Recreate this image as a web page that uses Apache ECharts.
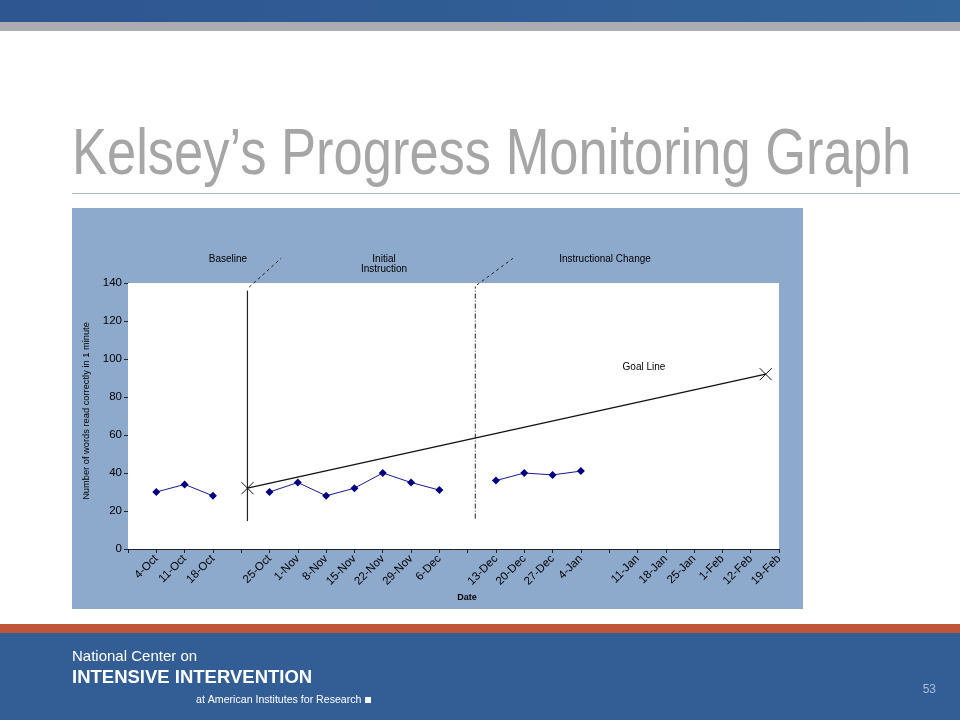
<!DOCTYPE html>
<html>
<head>
<meta charset="utf-8">
<script src="https://cdn.jsdelivr.net/npm/echarts@6/dist/echarts.min.js"></script>
<style>
html,body{margin:0;padding:0;background:#fff;}
#c{width:960px;height:720px;}
</style>
</head>
<body>
<div id="c"></div>
<script>
// ---- data ----
var dates = ['', '4-Oct', '11-Oct', '18-Oct', '', '25-Oct', '1-Nov', '8-Nov', '15-Nov', '22-Nov', '29-Nov', '6-Dec', '',
  '13-Dec', '20-Dec', '27-Dec', '4-Jan', '', '11-Jan', '18-Jan', '25-Jan', '1-Feb', '12-Feb', '19-Feb'];
var wordsCorrect = [null, 30, 34, 28, null, 30, 35, 28, 32, 40, 35, 31, null,
  36, 40, 39, 41, null, null, null, null, null, null, null];
var yTicks = { min: 0, max: 140, interval: 20 };
// goal line: from baseline point to goal point (x in category-index units)
var goalLine = [[4.22, 32], [22.53, 92]];
var baselineLine = [[4.22, 14.7], [4.22, 136]];
var baselineLead = [[4.28, 137.8], [5.41, 153]];
var changeLine = [[12.27, 16], [12.27, 138.2]];
var changeLead = [[12.33, 139], [13.6, 153]];

var chart = echarts.init(document.getElementById('c'), null, { renderer: 'canvas' });
var crossPath = 'path://M0,0L10,10M10,0L0,10';
var F = 'Liberation Sans, Arial, sans-serif';

var option = {
  animation: false,
  backgroundColor: '#ffffff',
  graphic: [
    { type: 'rect', z: 0, shape: { x: 0, y: 0, width: 960, height: 22 },
      style: { fill: new echarts.graphic.LinearGradient(0, 0, 1, 0, [{ offset: 0, color: '#2E5690' }, { offset: 1, color: '#33649A' }]) } },
    { type: 'rect', z: 0, shape: { x: 0, y: 22, width: 960, height: 9 }, style: { fill: '#AAACB1' } },
    { type: 'text', z: 10, x: 72, y: 156, scaleX: 0.82,
      style: { text: 'Kelsey\u2019s Progress Monitoring Graph', x: 0, y: 0, fill: '#A6A6A6', font: '64px ' + F, verticalAlign: 'middle', align: 'left' } },
    { type: 'rect', z: 0, shape: { x: 72, y: 193, width: 888, height: 1 }, style: { fill: '#A9BBD0' } },
    { type: 'rect', z: 0, shape: { x: 72, y: 208, width: 731, height: 401 }, style: { fill: '#8DA9CB' } },
    { type: 'text', z: 10, style: { text: 'Baseline', x: 228, y: 259, fill: '#000', font: '10px ' + F, align: 'center', verticalAlign: 'middle' } },
    { type: 'text', z: 10, style: { text: 'Initial\nInstruction', x: 384, y: 264, fill: '#000', font: '10px ' + F, align: 'center', verticalAlign: 'middle', lineHeight: 10 } },
    { type: 'text', z: 10, style: { text: 'Instructional Change', x: 605, y: 259, fill: '#000', font: '10px ' + F, align: 'center', verticalAlign: 'middle' } },
    { type: 'text', z: 10, style: { text: 'Goal Line', x: 644, y: 367, fill: '#000', font: '10px ' + F, align: 'center', verticalAlign: 'middle' } },
    { type: 'text', z: 10, style: { text: 'Date', x: 467, y: 598, fill: '#000', font: 'bold 9px ' + F, align: 'center', verticalAlign: 'middle' } },
    { type: 'text', z: 10, x: 86, y: 411, rotation: Math.PI / 2,
      style: { text: 'Number of words read correctly in 1 minute', x: 0, y: 0, fill: '#000', font: '9.3px ' + F, align: 'center', verticalAlign: 'middle' } },
    { type: 'rect', z: 0, shape: { x: 0, y: 624, width: 960, height: 9 }, style: { fill: '#C0553A' } },
    { type: 'rect', z: 0, shape: { x: 0, y: 633, width: 960, height: 87 }, style: { fill: '#335E95' } },
    { type: 'text', z: 10, style: { text: 'National Center on', x: 72, y: 657, fill: '#fff', font: '15px ' + F, verticalAlign: 'middle' } },
    { type: 'text', z: 10, style: { text: 'INTENSIVE INTERVENTION', x: 72, y: 678, fill: '#fff', font: 'bold 18.5px ' + F, verticalAlign: 'middle' } },
    { type: 'text', z: 10, style: { text: 'at American Institutes for Research', x: 196, y: 700, fill: '#fff', font: '10.6px ' + F, verticalAlign: 'middle' } },
    { type: 'rect', z: 10, shape: { x: 365, y: 697, width: 6, height: 6 }, style: { fill: '#fff' } },
    { type: 'text', z: 10, style: { text: '53', x: 936, y: 690, fill: '#A9BDD8', font: '12px ' + F, align: 'right', verticalAlign: 'middle' } }
  ],
  grid: { left: 128, right: 181, top: 283, bottom: 171, show: true, backgroundColor: '#ffffff', borderWidth: 0, z: 1 },
  xAxis: [
    { type: 'category', data: dates, boundaryGap: false,
      axisLine: { lineStyle: { color: '#222', width: 1 } },
      axisTick: { show: true, interval: 0, length: 4, lineStyle: { color: '#222' } },
      axisLabel: { interval: 0, rotate: 45, fontSize: 11.5, fontFamily: F, color: '#000', margin: 8 },
      splitLine: { show: false } },
    { type: 'value', min: 0, max: dates.length - 1, show: false }
  ],
  yAxis: {
    type: 'value', min: yTicks.min, max: yTicks.max, interval: yTicks.interval,
    axisLine: { show: true, lineStyle: { color: '#222', width: 1 } },
    axisTick: { show: true, length: 4, lineStyle: { color: '#222' } },
    axisLabel: { fontSize: 11.5, fontFamily: F, color: '#000', margin: 6 },
    splitLine: { show: false }
  },
  series: [
    { type: 'line', xAxisIndex: 1, data: goalLine, clip: false, symbol: crossPath, symbolSize: 12,
      itemStyle: { color: 'none', borderColor: '#111', borderWidth: 1 },
      lineStyle: { color: '#111', width: 1.3 }, z: 3 },
    { type: 'line', xAxisIndex: 1, data: baselineLine, clip: false, symbol: 'none',
      lineStyle: { color: '#222', width: 1.2 }, z: 3 },
    { type: 'line', xAxisIndex: 1, data: baselineLead, clip: false, symbol: 'none',
      lineStyle: { color: '#222', width: 1, type: [3, 3] }, z: 3 },
    { type: 'line', xAxisIndex: 1, data: changeLine, clip: false, symbol: 'none',
      lineStyle: { color: '#222', width: 1, type: [5, 2, 1, 2] }, z: 3 },
    { type: 'line', xAxisIndex: 1, data: changeLead, clip: false, symbol: 'none',
      lineStyle: { color: '#222', width: 1, type: [3, 3] }, z: 3 },
    { type: 'line', xAxisIndex: 0, data: wordsCorrect, connectNulls: false, symbol: 'diamond', symbolSize: 8,
      itemStyle: { color: '#00007F' }, lineStyle: { color: '#1A1A8C', width: 1 }, z: 4 }
  ]
};
chart.setOption(option);
</script>
</body>
</html>
